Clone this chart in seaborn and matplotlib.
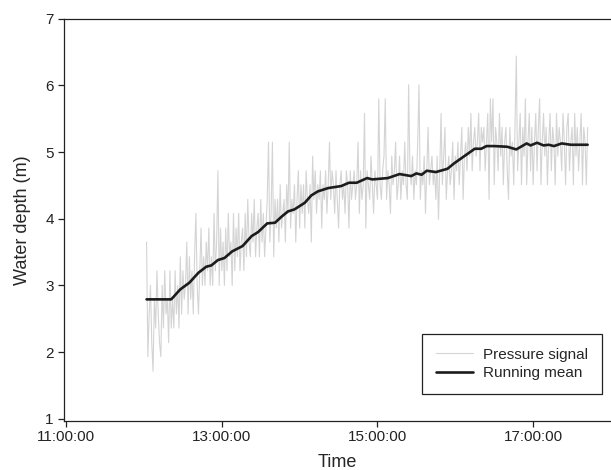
import matplotlib
matplotlib.use("Agg")
import matplotlib.pyplot as plt
import matplotlib.dates as mdates
import pandas as pd
import seaborn as sns

# pressure signal, one reading per minute from 12:02 to 17:42
signal_start = "2000-01-01 12:02"
signal_depth = [
    # 12:02
    3.65, 1.93, 2.57, 3.00, 2.14, 1.71, 2.79, 2.36, 3.22, 2.57,
    2.14, 1.93, 3.00, 2.36, 3.22, 2.57, 2.79, 2.14, 3.22, 2.36,
    # 12:22
    2.79, 2.36, 3.22, 2.57, 3.00, 2.36, 3.43, 2.57, 3.22, 2.79,
    3.00, 3.65, 2.57, 3.43, 2.79, 3.22, 2.57, 3.43, 4.08, 3.00,
    # 12:42
    2.57, 3.22, 3.86, 3.00, 3.43, 3.00, 3.65, 3.22, 3.86, 3.00,
    3.43, 3.00, 4.08, 3.22, 3.65, 4.72, 3.00, 3.86, 3.22, 3.65,
    # 13:02
    3.00, 3.86, 3.22, 4.08, 3.43, 3.65, 3.00, 4.08, 3.22, 3.86,
    3.43, 4.08, 3.22, 3.65, 3.86, 3.22, 4.08, 3.43, 4.29, 3.65,
    # 13:22
    3.43, 4.08, 3.65, 4.29, 3.43, 3.86, 4.08, 3.43, 4.29, 3.65,
    4.08, 3.43, 3.86, 4.29, 5.15, 3.65, 4.08, 5.15, 3.43, 4.29,
    # 13:42
    3.86, 4.29, 3.65, 4.51, 3.86, 4.08, 4.29, 3.65, 4.51, 4.08,
    5.15, 3.86, 4.29, 4.08, 4.51, 3.65, 4.29, 4.72, 3.86, 4.51,
    # 14:02
    4.08, 4.51, 3.86, 4.72, 4.29, 4.08, 4.51, 3.65, 4.94, 4.29,
    4.72, 4.08, 4.51, 4.29, 4.72, 3.86, 4.51, 4.29, 4.72, 4.08,
    # 14:22
    4.51, 5.15, 4.29, 4.72, 4.51, 4.08, 4.72, 4.29, 3.86, 4.51,
    4.72, 4.29, 4.51, 4.08, 4.72, 4.51, 3.86, 4.72, 4.29, 4.51,
    # 14:42
    4.72, 4.29, 4.51, 5.15, 4.08, 4.72, 4.29, 4.51, 5.58, 3.86,
    4.72, 4.51, 4.29, 4.94, 4.51, 4.08, 4.72, 4.51, 4.29, 5.80,
    # 15:02
    4.51, 4.29, 4.72, 4.94, 5.80, 4.29, 4.72, 4.51, 4.08, 4.94,
    4.51, 4.72, 5.15, 4.29, 4.51, 4.94, 4.29, 4.72, 4.51, 5.15,
    # 15:22
    4.51, 4.29, 6.01, 4.72, 4.51, 4.94, 4.29, 4.72, 4.51, 5.15,
    6.01, 4.29, 4.72, 4.51, 4.94, 4.08, 4.72, 5.37, 4.51, 4.72,
    # 15:42
    4.94, 4.51, 4.72, 4.29, 4.94, 3.99, 4.72, 5.58, 4.51, 4.94,
    5.37, 4.29, 4.72, 4.94, 4.51, 4.72, 5.15, 4.29, 4.94, 4.72,
    # 16:02
    5.15, 4.51, 4.94, 5.37, 4.29, 4.94, 5.15, 4.72, 5.37, 4.94,
    5.58, 4.72, 5.15, 5.37, 4.94, 5.15, 5.58, 4.72, 5.37, 5.15,
    # 16:22
    5.37, 4.72, 5.15, 5.58, 4.29, 5.80, 5.15, 5.80, 4.51, 5.37,
    5.15, 4.72, 5.58, 4.94, 5.37, 4.51, 5.15, 5.37, 4.72, 4.29,
    # 16:42
    5.37, 4.94, 5.15, 4.51, 5.37, 6.44, 4.72, 5.15, 5.58, 4.51,
    5.37, 4.94, 5.80, 4.51, 5.15, 5.58, 4.72, 5.37, 4.51, 5.15,
    # 17:02
    5.58, 4.72, 5.37, 5.80, 4.51, 5.15, 5.58, 4.94, 5.37, 4.51,
    5.15, 5.58, 4.72, 5.37, 5.15, 4.51, 5.58, 4.94, 5.37, 5.15,
    # 17:22
    4.72, 5.58, 5.15, 4.51, 5.37, 5.58, 4.72, 5.15, 5.37, 4.51,
    5.58, 4.94, 5.37, 4.72, 5.15, 5.58, 4.51, 5.37, 5.15, 4.51,
    5.37,
]

mean_time = [
    "12:02", "12:21", "12:28", "12:35", "12:42", "12:48", "12:52", "12:57",
    "13:02", "13:08", "13:14", "13:16", "13:23", "13:28", "13:35", "13:41",
    "13:46", "13:51", "13:56", "14:04", "14:09", "14:14", "14:22", "14:32",
    "14:38", "14:44", "14:52", "14:56", "15:08", "15:17", "15:26", "15:30",
    "15:34", "15:38", "15:45", "15:54", "15:59", "16:07", "16:15", "16:20",
    "16:24", "16:30", "16:40", "16:47", "16:55", "16:58", "17:03", "17:08",
    "17:12", "17:16", "17:22", "17:29", "17:42",
]
mean_depth = [
    2.79, 2.79, 2.94, 3.04, 3.19, 3.28, 3.30, 3.38,
    3.41, 3.51, 3.57, 3.59, 3.74, 3.80, 3.93, 3.94,
    4.03, 4.11, 4.14, 4.24, 4.35, 4.41, 4.46, 4.49,
    4.54, 4.54, 4.61, 4.59, 4.61, 4.67, 4.64, 4.68,
    4.66, 4.72, 4.70, 4.75, 4.83, 4.94, 5.05, 5.05,
    5.09, 5.09, 5.08, 5.04, 5.13, 5.10, 5.14, 5.10,
    5.11, 5.09, 5.13, 5.11, 5.11,
]

x_ticks = ["11:00", "13:00", "15:00", "17:00"]
y_ticks = [1, 2, 3, 4, 5, 6, 7]

day = "2000-01-01 "
sig = pd.DataFrame({
    "time": pd.date_range(signal_start, periods=len(signal_depth), freq="1min"),
    "depth": signal_depth,
})
run = pd.DataFrame({
    "time": pd.to_datetime([day + t for t in mean_time]),
    "depth": mean_depth,
})

sns.set_style("ticks")
plt.rcParams["font.family"] = ["Liberation Sans", "DejaVu Sans"]

fig = plt.figure(figsize=(6.11, 4.70), dpi=100)
ax = fig.add_axes([0.104, 0.105, 0.896, 0.855])

sns.lineplot(data=sig, x="time", y="depth", ax=ax, color="#d4d4d4",
             linewidth=0.8, label="Pressure signal")
sns.lineplot(data=run, x="time", y="depth", ax=ax, color="#1c1c1c",
             linewidth=1.9, label="Running mean")

ax.set_xlim(pd.Timestamp(day + "10:58"), pd.Timestamp(day + "18:00"))
ax.set_ylim(0.97, 7.0)
ax.set_xticks(pd.to_datetime([day + t for t in x_ticks]))
ax.xaxis.set_major_formatter(mdates.DateFormatter("%H:%M:%S"))
ax.set_yticks(y_ticks)

ax.spines["right"].set_visible(False)
for s in ["left", "bottom", "top"]:
    ax.spines[s].set_color("#222222")
    ax.spines[s].set_linewidth(0.9)
ax.tick_params(direction="out", length=4, width=0.9, colors="#222222",
               labelsize=11, pad=3)

ax.set_xlabel("Time", fontsize=13, labelpad=7)
ax.set_ylabel("Water depth (m)", fontsize=13, labelpad=10)

leg = ax.legend(loc="lower right", bbox_to_anchor=(602 / 611, 1 - 394 / 470),
                bbox_transform=fig.transFigure, borderaxespad=0,
                fancybox=False, frameon=True, edgecolor="#222222",
                framealpha=1, fontsize=11, handlelength=2.4,
                borderpad=0.9, labelspacing=0.3, handletextpad=0.7)
leg.get_frame().set_linewidth(0.9)

fig.savefig("out.png", dpi=100)
